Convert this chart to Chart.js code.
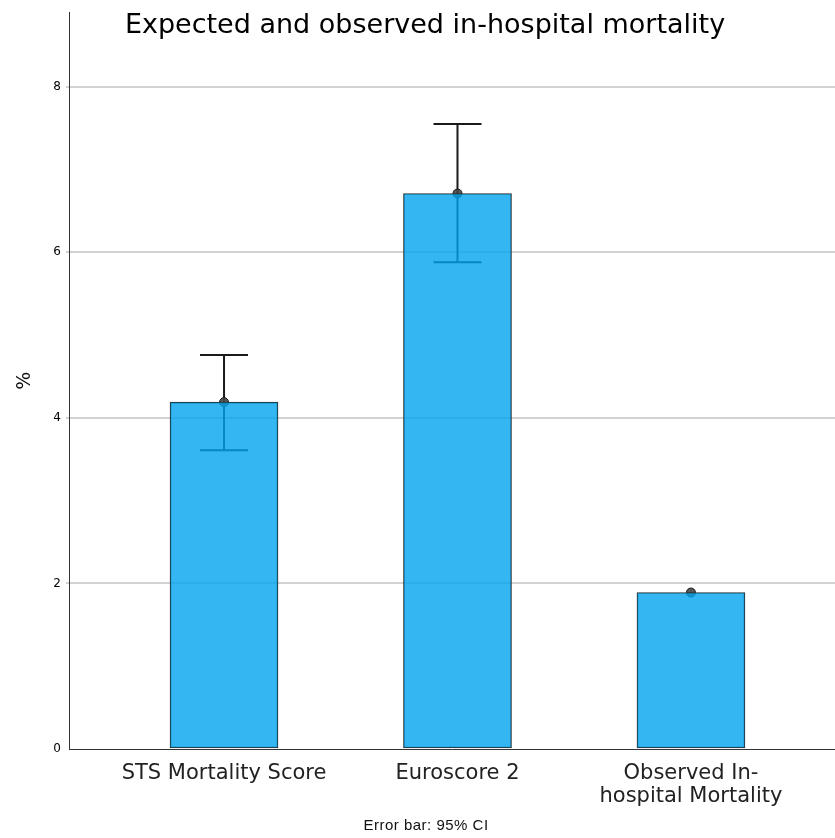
<!DOCTYPE html>
<html>
<head>
<meta charset="utf-8">
<script src="https://cdn.jsdelivr.net/npm/chart.js@4.4.1/dist/chart.umd.min.js"></script>
<style>
  html, body { margin: 0; padding: 0; background: #fff; }
  #wrap { width: 835px; height: 838px; position: relative; }
</style>
</head>
<body>
<div id="wrap"><canvas id="c"></canvas></div>
<script>
// Categories and values (%)
const categories = ['STS Mortality Score', 'Euroscore 2', ['Observed In-', 'hospital Mortality']];
const categoryPos = [1, 2, 3];
const meanValues = [4.19, 6.71, 1.89];
const ciLower = [3.61, 5.88, null];
const ciUpper = [4.76, 7.55, null];
const yTicks = [0, 2, 4, 6, 8];

const chartTitle = 'Expected and observed in-hospital mortality';
const footNote = 'Error bar: 95% CI';

// Error bars and mean markers, drawn under the translucent bars
const errorBarPlugin = {
  id: 'errorBars',
  beforeDatasetsDraw(chart) {
    const { ctx, scales: { x, y } } = chart;
    ctx.save();
    categoryPos.forEach((pos, i) => {
      const cx = x.getPixelForValue(pos);
      if (ciLower[i] != null && ciUpper[i] != null) {
        const yl = y.getPixelForValue(ciLower[i]);
        const yh = y.getPixelForValue(ciUpper[i]);
        ctx.strokeStyle = '#1a1a1a';
        ctx.lineWidth = 2;
        ctx.beginPath();
        ctx.moveTo(cx, yl); ctx.lineTo(cx, yh);
        ctx.moveTo(cx - 24, yh); ctx.lineTo(cx + 24, yh);
        ctx.moveTo(cx - 24, yl); ctx.lineTo(cx + 24, yl);
        ctx.stroke();
      }
      const ym = y.getPixelForValue(meanValues[i]);
      ctx.beginPath();
      ctx.arc(cx, ym, 4.5, 0, Math.PI * 2);
      ctx.fillStyle = 'rgba(70,70,70,0.9)';
      ctx.fill();
      ctx.lineWidth = 1;
      ctx.strokeStyle = '#1a1a1a';
      ctx.stroke();
    });
    ctx.restore();
  }
};

// Title over the plot and the footnote under the axis
const textPlugin = {
  id: 'texts',
  afterDraw(chart) {
    const { ctx } = chart;
    ctx.save();
    ctx.fillStyle = '#000';
    ctx.textAlign = 'center';
    ctx.textBaseline = 'middle';
    ctx.font = '27px "DejaVu Sans"';
    ctx.fillText(chartTitle, 425, 26);
    ctx.fillStyle = '#111';
    ctx.font = '15px "Liberation Sans", sans-serif';
    ctx.letterSpacing = '0.5px';
    ctx.fillText(footNote, 426, 826);
    ctx.restore();
  }
};

new Chart(document.getElementById('c'), {
  type: 'bar',
  data: {
    datasets: [{
      data: categoryPos.map((p, i) => ({ x: p, y: meanValues[i] })),
      backgroundColor: 'rgba(0,164,238,0.8)',
      borderColor: '#2b2b2b',
      borderWidth: 1,
      borderSkipped: false,
      barThickness: 108
    }]
  },
  options: {
    responsive: true,
    maintainAspectRatio: false,
    animation: false,
    layout: { padding: { top: 10, right: 0, bottom: 0, left: 0 } },
    plugins: {
      legend: { display: false },
      tooltip: { enabled: false },
      title: { display: false }
    },
    scales: {
      x: {
        type: 'linear',
        offset: false,
        bounds: 'ticks',
        min: 0.336,
        max: 3.617,
        afterFit(scale) { scale.height = 89; },
        afterBuildTicks(scale) { scale.ticks = categoryPos.map(v => ({ value: v })); },
        grid: { display: false, offset: false },
        border: { display: true, color: '#333', width: 1 },
        ticks: {
          autoSkip: false,
          maxRotation: 0,
          padding: 6,
          color: '#222',
          font: { family: '"DejaVu Sans"', size: 21, lineHeight: 1.05 },
          callback: (v) => categories[categoryPos.indexOf(v)]
        }
      },
      y: {
        min: 0,
        max: 8.9,
        afterFit(scale) { scale.width = 69; },
        afterBuildTicks(scale) { scale.ticks = yTicks.map(v => ({ value: v })); },
        grid: {
          color: (c) => c.tick && c.tick.value === 0 ? 'rgba(0,0,0,0)' : '#d2d2d2',
          lineWidth: 2,
          tickLength: 3
        },
        border: { display: true, color: '#333', width: 1 },
        ticks: {
          color: '#000',
          padding: 5,
          font: { family: '"DejaVu Sans"', size: 12 }
        },
        title: {
          display: true,
          text: '%',
          color: '#111',
          padding: { top: 14, bottom: 0 },
          font: { family: '"DejaVu Sans"', size: 19 }
        }
      }
    }
  },
  plugins: [errorBarPlugin, textPlugin]
});
</script>
</body>
</html>
